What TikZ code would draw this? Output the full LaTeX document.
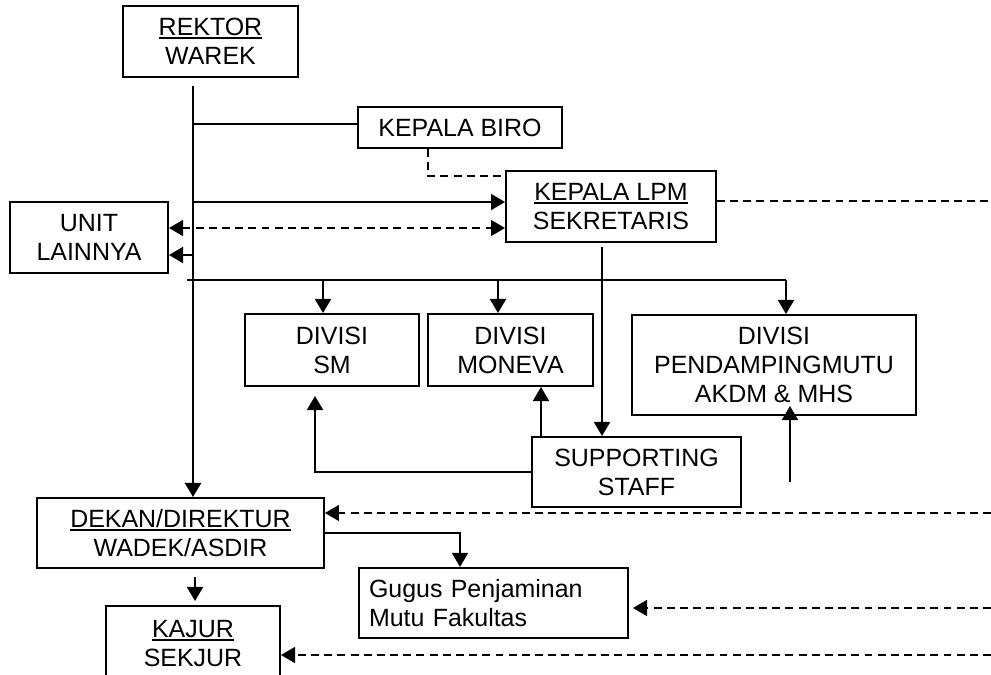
\documentclass[tikz,border=0pt]{standalone}
\usepackage{fontspec}
\setmainfont{Liberation Sans}
\usetikzlibrary{arrows.meta}
\newcommand\thickul[1]{\setbox0\hbox{#1}\rlap{\smash{\rule[-2.1pt]{\wd0}{1.1pt}}}\box0}
\begin{document}
\begin{tikzpicture}[x=0.02cm,y=-0.02cm,
        box/.style={draw,line width=1.1pt,inner sep=0pt,align=center,
            font=\fontsize{14.2}{16.5}\selectfont},
        wire/.style={line width=0.9pt},
        feed/.style={line width=1.4pt},
        dashlink/.style={line width=1.1pt,dash pattern=on 4.5pt off 3pt},
        tip/.style={-{Triangle[length=8pt,width=9pt]}},
        tips/.style={{Triangle[length=8pt,width=9pt]}-{Triangle[length=8pt,width=9pt]}}]
    \useasboundingbox (0,0) rectangle (991,674);
    \clip (0,0) rectangle (991,674);
    \node[box,minimum width=3.5cm,minimum height=1.42cm] (rektor) at (210.5,41.5) {\thickul{REKTOR}\\WAREK};
    \node[box,minimum width=4.08cm,minimum height=0.82cm] (biro) at (460,127.5) {KEPALA BIRO};
    \node[box,minimum width=4.2cm,minimum height=1.42cm] (lpm) at (611,206.5) {\thickul{KEPALA LPM}\\SEKRETARIS};
    \node[box,minimum width=3.16cm,minimum height=1.42cm] (unit) at (89,237.5) {UNIT\\LAINNYA};
    \node[box,minimum width=3.48cm,minimum height=1.44cm] (sm) at (332,350) {DIVISI\\SM};
    \node[box,minimum width=3.3cm,minimum height=1.44cm] (moneva) at (510.5,350) {DIVISI\\MONEVA};
    \node[box,minimum width=5.68cm,minimum height=2cm] (pmutu) at (774,365) {DIVISI\\PENDAMPINGMUTU\\AKDM \& MHS};
    \node[box,minimum width=4.18cm,minimum height=1.4cm] (staff) at (636.5,472) {SUPPORTING\\STAFF};
    \node[box,minimum width=5.74cm,minimum height=1.4cm] (dekan) at (180.5,533) {\thickul{DEKAN/DIREKTUR}\\WADEK/ASDIR};
    \node[box,align=left,inner xsep=0.2cm,text width=4.98cm,minimum height=1.4cm] (gugus) at (493.5,603) {Gugus Penjaminan\\Mutu Fakultas};
    \node[box,minimum width=3.48cm,minimum height=1.5cm] (kajur) at (193,643.5) {\thickul{KAJUR}\\SEKJUR};
    \coordinate (trunk) at (193,86);
    \coordinate (bar) at (187,280);
    \coordinate (edge) at (991,0);
    \coordinate (pm0) at (790,482);
    \draw[feed,line width=1.6pt,tip] (trunk) -- (trunk |- dekan.north);
    \draw[wire] ([yshift=0.07cm]biro.west -| trunk) -- ([yshift=0.07cm]biro.west);
    \draw[dashlink] ([xshift=-0.64cm]biro.south) |- ([yshift=0.61cm]lpm.west);
    \draw[feed,tip] ([yshift=0.09cm]lpm.west -| trunk) -- ([yshift=0.09cm]lpm.west);
    \draw[dashlink,tips] ([yshift=0.19cm]unit.east) -- ([yshift=0.19cm]unit.east -| lpm.west);
    \draw[feed,tip] ([yshift=-0.35cm]unit.east -| trunk) -- ([yshift=-0.35cm]unit.east);
    \draw[wire] (bar) -- ([xshift=0.24cm]bar -| pmutu.north);
    \draw[feed,tip] ([xshift=-0.18cm]sm.north |- bar) -- ([xshift=-0.18cm]sm.north);
    \draw[feed,tip] ([xshift=-0.25cm]moneva.north |- bar) -- ([xshift=-0.25cm]moneva.north);
    \draw[feed,tip] ([xshift=0.24cm]pmutu.north |- bar) -- ([xshift=0.24cm]pmutu.north);
    \draw[feed,tip] ([xshift=-0.18cm,yshift=-0.08cm]lpm.south) -- ([xshift=-0.18cm]lpm.south |- staff.north);
    \draw[feed,tip] ([xshift=0.61cm]moneva.south |- staff.north) -- ([xshift=0.61cm]moneva.south);
    \draw[feed,tip] (staff.west) -| ([xshift=-0.34cm,yshift=-0.18cm]sm.south);
    \draw[feed,tip] (pm0) -- ([yshift=0.2cm]pm0 |- pmutu.south);
    \draw[dashlink] ([yshift=0.11cm]lpm.east) -- ([yshift=0.11cm]lpm.east -| edge);
    \draw[dashlink,tip] ([yshift=0.4cm]dekan.east -| edge) -- ([yshift=0.4cm]dekan.east);
    \draw[wire,tip] (dekan.east) -| ([xshift=-0.67cm]gugus.north);
    \draw[feed,tip] ([xshift=0.04cm,yshift=-0.16cm]dekan.south -| kajur.north) -- ([xshift=0.04cm,yshift=0.08cm]kajur.north);
    \draw[dashlink,tip] ([yshift=-0.1cm]gugus.east -| edge) -- ([xshift=0.08cm,yshift=-0.1cm]gugus.east);
    \draw[dashlink,tip] ([yshift=-0.23cm]kajur.east -| edge) -- ([yshift=-0.23cm]kajur.east);
\end{tikzpicture}
\end{document}
